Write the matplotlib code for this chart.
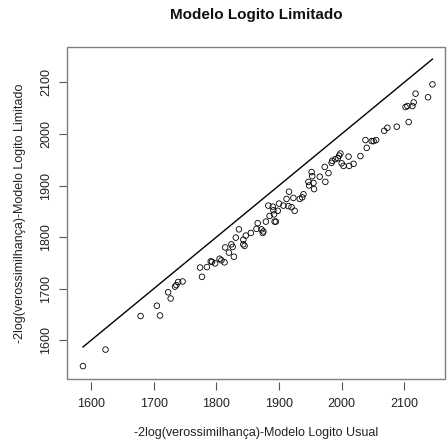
import numpy as np
import matplotlib
matplotlib.use('Agg')
import matplotlib.pyplot as plt
from matplotlib.patches import Rectangle

plt.rcParams['font.family'] = ['Liberation Sans', 'DejaVu Sans']

# -2log(verossimilhanca) para os dois modelos
usual = [1587, 1623, 1679, 1705, 1710, 1723, 1727, 1734, 1736, 1739, 1746,
         1774, 1777, 1785, 1791, 1793, 1798, 1805, 1808, 1813, 1814, 1820,
         1824, 1826, 1828, 1831, 1836, 1843, 1843, 1845, 1847, 1855, 1864,
         1866, 1872, 1874, 1875, 1879, 1883, 1885, 1890, 1891, 1892, 1893,
         1895, 1898, 1900, 1907, 1915, 1916, 1920, 1923, 1925, 1912, 1933,
         1937, 1939, 1947, 1948, 1952, 1953, 1955, 1956, 1965, 1973, 1974,
         1979, 1984, 1985, 1990, 1994, 1996, 1998, 2000, 2003, 2011, 2012,
         2019, 2030, 2038, 2040, 2048, 2051, 2055, 2068, 2073, 2088, 2102,
         2105, 2107, 2113, 2115, 2118, 2138, 2145]
limitado = [1550, 1582, 1647, 1667, 1648, 1693, 1681, 1704, 1707, 1713, 1714,
            1741, 1723, 1742, 1753, 1752, 1749, 1758, 1755, 1751, 1780, 1770,
            1786, 1781, 1762, 1799, 1815, 1795, 1786, 1783, 1803, 1808, 1816,
            1827, 1815, 1808, 1811, 1830, 1861, 1841, 1859, 1852, 1844, 1830,
            1830, 1851, 1865, 1861, 1860, 1888, 1858, 1876, 1851, 1874, 1874,
            1877, 1883, 1907, 1900, 1926, 1918, 1905, 1893, 1917, 1936, 1907,
            1924, 1944, 1948, 1951, 1953, 1958, 1962, 1943, 1938, 1956, 1938,
            1942, 1957, 1988, 1973, 1986, 1986, 1988, 2006, 2012, 2014, 2052,
            2054, 2023, 2054, 2061, 2078, 2071, 2096]
ticks = [1600, 1700, 1800, 1900, 2000, 2100]

fig = plt.figure(figsize=(4.48, 4.45), dpi=100)
W, H = 448, 445
left, right, top, bottom = 67.3, 445, 46.7, 379
ax = fig.add_axes([left / W, 1 - bottom / H, (right - left) / W, (bottom - top) / H])

ax.scatter(usual, limitado, s=16, facecolors='none', edgecolors='black', linewidths=0.6, zorder=3)
lo, hi = min(usual), max(usual)
ax.plot([lo, hi], [lo, hi], color='black', lw=1.0)

ax.set_xlim(1562, 2165)
ax.set_ylim(1525, 2169)
ax.set_xticks(ticks)
ax.set_yticks(ticks)
ax.set_yticklabels([str(t) for t in ticks], rotation=90, va='center')

for s in ax.spines.values():
    s.set_visible(False)
ax.spines['bottom'].set_position(('outward', 2))
ax.add_patch(Rectangle((0, 0), 1, 1, transform=ax.transAxes, fill=False,
                       edgecolor='#7f7f7f', lw=1.0, clip_on=False, zorder=5))
ax.tick_params(axis='both', length=6, width=0.8, color='#555555', labelsize=9, labelcolor='#222222')
ax.tick_params(axis='x', pad=6)
ax.tick_params(axis='y', pad=5)

ax.set_xlabel('-2log(verossimilhança)-Modelo Logito Usual', fontsize=9, color='#222222', labelpad=12)
ax.set_ylabel('-2log(verossimilhança)-Modelo Logito Limitado', fontsize=9, color='#222222', labelpad=10)
fig.text(256 / W, 1 - 15 / H, 'Modelo Logito Limitado', ha='center', va='center',
         fontsize=11, fontweight='bold', color='#111111')

fig.savefig('out.png', dpi=100)
